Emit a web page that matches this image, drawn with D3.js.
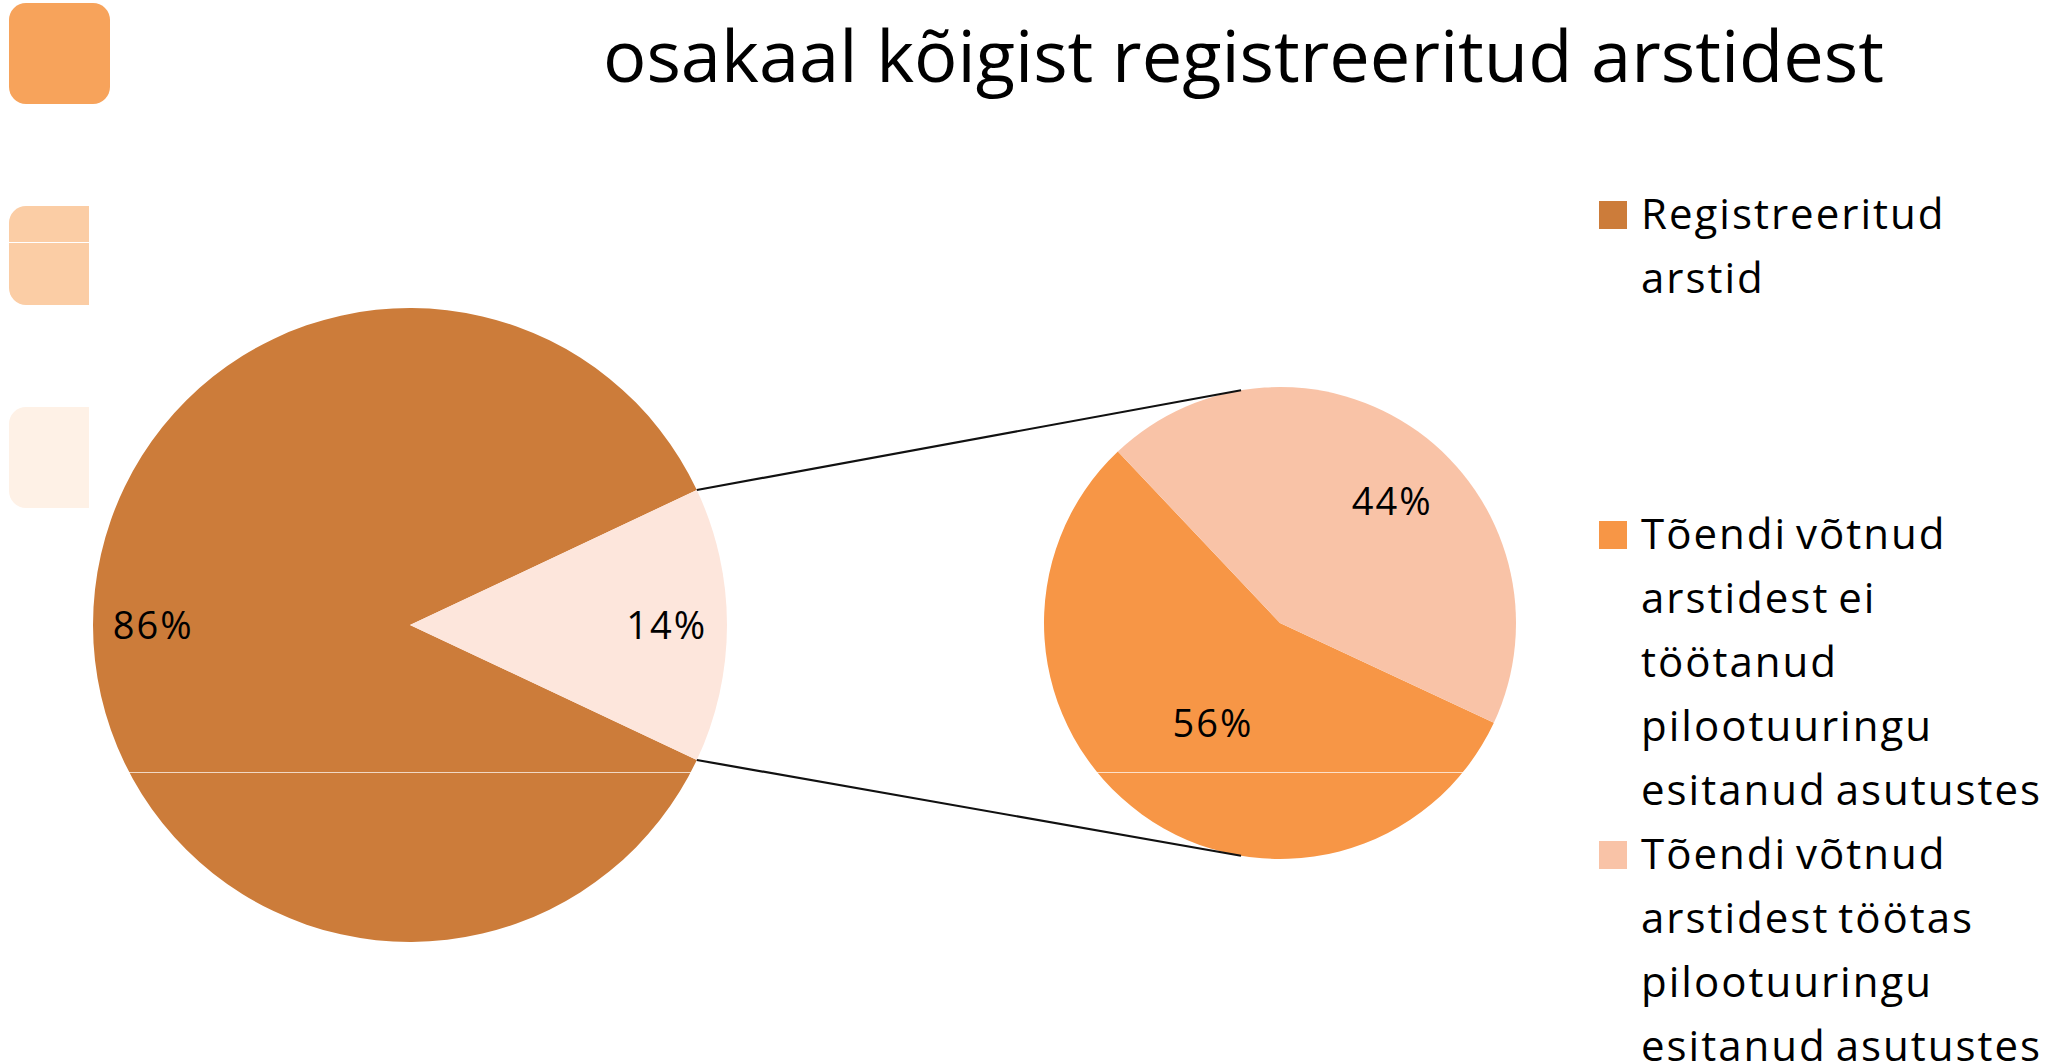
<!DOCTYPE html>
<meta charset="utf-8">
<style>
body { margin: 0; background: #fff; }
text { font-family: "Open Sans", sans-serif; fill: #000; }
</style>
<body>
<script src="https://d3js.org/d3.v7.min.js"></script>
<script>

var width = 2066,
    height = 1063;

// data
var title = "osakaal kõigist registreeritud arstidest";
var mainValues = [86, 14];
var mainColors = ["#cc7c3a", "#fde6dc"];
var subValues = [56, 44];
var subColors = ["#f79646", "#f9c3a7"];
var legendLabels = [
    ["Registreeritud", "arstid"],
    ["Tõendi võtnud", "arstidest ei", "töötanud", "pilootuuringu", "esitanud asutustes"],
    ["Tõendi võtnud", "arstidest töötas", "pilootuuringu", "esitanud asutustes"]];
var legendColors = ["#cc7c3a", "#f79646", "#f9c3a7"];
var decoColors = ["#f7a35b", "#fbcda5", "#fef1e6"];

var svg = d3.select("body").append("svg")
    .attr("width", width)
    .attr("height", height);

// rounded squares at the left edge
var deco = [[9, 3, 101, 101], [9, 206, 80, 99], [9, 407, 80, 101]];
svg.append("clipPath").attr("id", "decoclip")
  .append("rect").attr("x", 0).attr("y", 0).attr("width", 89).attr("height", height);
svg.append("g")
    .selectAll("rect")
    .data(deco)
    .enter()
    .append("rect")
    .attr("clip-path", function(d, i) { return i ? "url(#decoclip)" : null; })
    .attr("x", function(d) { return d[0]; })
    .attr("y", function(d) { return d[1]; })
    .attr("width", 101)
    .attr("height", function(d) { return d[3]; })
    .attr("rx", 17)
    .attr("fill", function(d, i) { return decoColors[i]; });
svg.append("line")
    .attr("x1", 9).attr("x2", 110).attr("y1", 242.5).attr("y2", 242.5)
    .attr("stroke", "#fff").attr("stroke-width", 1);

// title
svg.append("text")
    .attr("x", 603)
    .attr("y", 82)
    .attr("font-size", 72)
    .attr("textLength", 1281)
    .attr("lengthAdjust", "spacingAndGlyphs")
    .text(title);

var pct = d3.format(".0%");

// main pie, second slice centered at 3 o'clock
var mx = 410, my = 625, mr = 317;
var mainTotal = d3.sum(mainValues);
var half = Math.PI * mainValues[1] / mainTotal;
var mainPie = d3.pie().sort(null)
    .startAngle(Math.PI / 2 + half)
    .endAngle(Math.PI / 2 + half + 2 * Math.PI);
var mainArcs = mainPie(mainValues);
var mainArc = d3.arc().innerRadius(0).outerRadius(mr);
var mainLabelArc = d3.arc().innerRadius(mr * 0.81).outerRadius(mr * 0.81);

var gMain = svg.append("g").attr("transform", "translate(" + mx + "," + my + ")");
gMain.selectAll("path")
    .data(mainArcs)
    .enter()
    .append("path")
    .attr("d", mainArc)
    .attr("fill", function(d, i) { return mainColors[i]; });

// second pie
var sx = 1280, sy = 623, sr = 236;
var subTotal = d3.sum(subValues);
var subStart = 115 * Math.PI / 180;
var subPie = d3.pie().sort(null)
    .startAngle(subStart)
    .endAngle(subStart + 2 * Math.PI);
var subArcs = subPie(subValues);
var subArc = d3.arc().innerRadius(0).outerRadius(sr);
// label placement (radius fraction, angle nudge in degrees), "best fit" look
var subLabelR = [0.51, 0.70];
var subLabelNudge = [-2, 7];

var gSub = svg.append("g").attr("transform", "translate(" + sx + "," + sy + ")");
gSub.selectAll("path")
    .data(subArcs)
    .enter()
    .append("path")
    .attr("d", subArc)
    .attr("fill", function(d, i) { return subColors[i]; });

// seam line visible across both pies
svg.append("line")
    .attr("x1", 0).attr("x2", 1560).attr("y1", 772.5).attr("y2", 772.5)
    .attr("stroke", "#fff").attr("stroke-opacity", 0.7).attr("stroke-width", 1);

// connector lines from the split slice to the second pie
function onCircle(cx, cy, r, a) { return [cx + r * Math.sin(a), cy - r * Math.cos(a)]; }
var tilt = 9.5 * Math.PI / 180;
var links = [
    [onCircle(mx, my, mr, mainArcs[1].startAngle), onCircle(sx, sy, sr, -tilt)],
    [onCircle(mx, my, mr, mainArcs[1].endAngle), onCircle(sx, sy, sr, Math.PI + tilt)]];
svg.append("g")
    .selectAll("path")
    .data(links)
    .enter()
    .append("path")
    .attr("d", function(d) { return "M" + d.join("L"); })
    .attr("stroke", "#111")
    .attr("stroke-width", 2.2)
    .attr("fill", "none");

// slice labels
gMain.selectAll("text")
    .data(mainArcs)
    .enter()
    .append("text")
    .attr("transform", function(d) { return "translate(" + mainLabelArc.centroid(d) + ")"; })
    .attr("dy", "0.36em")
    .attr("text-anchor", "middle")
    .attr("font-size", 38)
    .attr("letter-spacing", 2)
    .text(function(d) { return pct(d.value / mainTotal); });

gSub.selectAll("text")
    .data(subArcs)
    .enter()
    .append("text")
    .attr("transform", function(d, i) {
        var a = (d.startAngle + d.endAngle) / 2 + subLabelNudge[i] * Math.PI / 180,
            r = sr * subLabelR[i];
        return "translate(" + [r * Math.sin(a), -r * Math.cos(a)] + ")";
    })
    .attr("dy", "0.36em")
    .attr("text-anchor", "middle")
    .attr("font-size", 38)
    .attr("letter-spacing", 2)
    .text(function(d) { return pct(d.value / subTotal); });

// legend, every entry gets a five line slot
var lineH = 64;
var legend = svg.append("g")
    .selectAll("g")
    .data(legendLabels)
    .enter()
    .append("g")
    .attr("transform", function(d, i) { return "translate(1599," + (229 + i * 5 * lineH) + ")"; });
legend.append("rect")
    .attr("x", 0).attr("y", -28)
    .attr("width", 28).attr("height", 28)
    .attr("fill", function(d, i) { return legendColors[i]; });
legend.append("text")
    .attr("font-size", 42)
    .attr("letter-spacing", 2)
    .attr("word-spacing", -4)
    .selectAll("tspan")
    .data(function(d) { return d; })
    .enter()
    .append("tspan")
    .attr("x", 42)
    .attr("y", function(d, j) { return j * lineH; })
    .text(function(d) { return d; });

</script>
